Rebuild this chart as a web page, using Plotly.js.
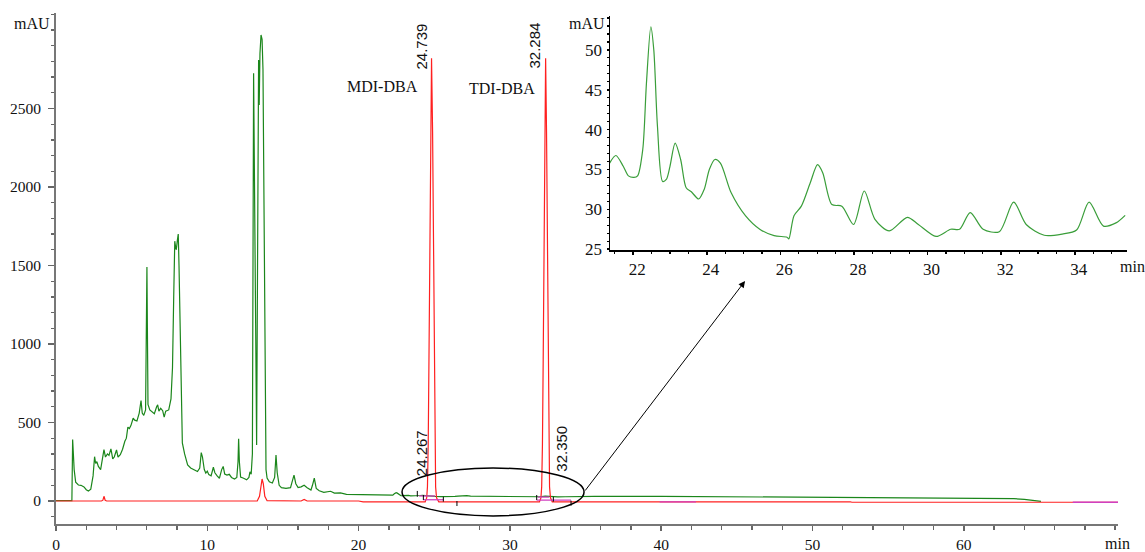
<!DOCTYPE html>
<html>
<head>
<meta charset="utf-8">
<script src="https://cdn.plot.ly/plotly-3.0.1.min.js"></script>
<style>html,body{margin:0;padding:0;background:#fff;}#chart{width:1145px;height:552px;}</style>
</head>
<body>
<div id="chart"></div>
<script>
// ---- data ----
// main chromatogram, green trace, 0–21 min
const greenEarlyTime = [0,1.0,1.05,1.1,1.15,1.2,1.3,1.48,1.65,1.85,2.0,2.14,2.3,2.45,2.55,2.62,2.7,2.8,2.95,3.05,3.17,3.27,3.4,3.5,3.63,3.75,3.85,4.0,4.1,4.25,4.4,4.55,4.65,4.75,4.85,4.95,5.1,5.2,5.35,5.5,5.62,5.7,5.8,5.92,5.98,6.01,6.04,6.08,6.2,6.35,6.5,6.65,6.72,6.8,6.92,7.05,7.15,7.25,7.45,7.6,7.7,7.78,7.85,7.9,7.95,8.02,8.08,8.13,8.2,8.28,8.35,8.5,8.7,8.9,9.1,9.35,9.5,9.6,9.68,9.8,9.9,10.0,10.1,10.25,10.4,10.5,10.65,10.8,10.95,11.05,11.15,11.3,11.45,11.6,11.8,11.95,12.03,12.07,12.12,12.2,12.4,12.6,12.75,12.82,12.9,12.98,13.06,13.12,13.2,13.26,13.32,13.39,13.43,13.48,13.55,13.62,13.68,13.75,13.82,13.88,13.95,14.1,14.3,14.45,14.54,14.62,14.75,14.9,15.2,15.5,15.6,15.73,15.85,16.0,16.2,16.4,16.6,16.85,16.95,17.07,17.2,17.4,17.7,18.0,18.15,18.4,18.7,18.8,19.2,20.1,21.0];
const greenEarlyAbs  = [3,3,3,392,300,200,120,102,100,90,72,64,75,160,282,240,250,220,200,250,327,280,300,290,332,268,280,325,280,295,330,380,400,470,462,480,527,515,510,560,640,560,545,580,1200,1490,1100,615,580,565,556,600,612,572,590,575,534,572,580,650,850,1300,1655,1620,1600,1660,1700,1500,1100,500,370,300,230,210,200,188,210,308,280,200,178,190,168,160,215,180,160,145,200,220,172,165,170,150,140,150,250,396,250,152,145,135,150,186,170,300,2724,1800,600,357,1500,2809,2522,2850,2968,2940,2750,1800,600,200,146,122,115,150,293,180,100,85,80,85,120,165,110,85,90,100,85,70,100,145,80,65,55,58,62,50,48,52,42,40,36];
// inset: the same green trace, 21.4–35.4 min
const insetTime = [21.36,21.53,21.73,21.87,22.02,22.12,22.26,22.36,22.48,22.56,22.66,22.8,22.9,23.0,23.14,23.29,23.44,23.58,23.78,23.93,24.07,24.22,24.37,24.66,25.05,25.44,25.83,26.18,26.23,26.37,26.57,26.81,27.01,27.15,27.4,27.67,27.99,28.28,28.57,28.96,29.45,29.75,30.23,30.63,30.87,31.16,31.51,31.95,32.34,32.68,33.17,33.66,34.05,34.39,34.78,35.12,35.37];
const insetAbs  = [35.8,36.75,35.4,34.2,34.0,34.2,37.5,45.8,52.9,50.0,40.4,33.5,33.75,35.4,38.3,36.25,32.7,32.2,31.3,32.5,35.0,36.25,35.8,32.1,29.2,27.5,26.7,26.5,26.3,29.2,30.4,33.3,35.6,34.6,30.6,30.4,28.1,32.3,28.75,27.3,29.0,28.1,26.6,27.5,27.5,29.6,27.5,27.2,30.9,28.1,26.75,26.9,27.4,30.9,27.9,28.3,29.25];
// main chromatogram, green trace, 35.4–65 min
const greenLateTime = [35.6,40,45,48.5,52,57.8,60,63.3,64,65.1];
const greenLateAbs  = [29,30,27,24,23,20,16,15,10,-3];
// red trace (standard)
const redTime = [0,1.0,3.0,3.1,3.17,3.25,3.35,8,13.3,13.45,13.55,13.62,13.7,13.8,13.95,16.2,16.4,16.6,20,20.3,24.4,24.5,24.55,24.6,24.65,24.7,24.75,24.82,24.89,24.94,24.99,25.04,25.09,25.15,25.3,31.95,32.05,32.1,32.15,32.2,32.25,32.3,32.36,32.42,32.47,32.52,32.57,32.62,32.68,32.8,52.5,52.6,70.2];
const redAbs  = [0,0,0,5,30,5,0,0,0,30,110,140,110,30,2,0,10,0,0,-5,-5,20,90,360,900,1650,2350,2820,2350,1650,900,360,90,20,-5,-5,20,90,360,900,1650,2350,2820,2350,1650,900,360,90,20,-5,-5,-8,-8];
// integration baselines (magenta) and peak event marks (black)
const baseTime = [24.0,25.05,null,24.28,25.6,null,31.85,32.6,null,31.77,34.04,null,39.9,42.3,null,67.2,70.2];
const baseAbs  = [32,32,null,8,8,null,25,25,null,6,6,null,-5,-5,null,-8,-8];
const markTime = [23.88,23.88,null,24.28,24.28,null,25.6,25.6,null,26.5,26.5,null,31.77,31.77,null,32.87,32.87,null,34.04,34.04];
const markAbs  = [27,64,null,6,38,null,-4,27,null,0,-32,null,6,38,null,-4,27,null,2,-30];
// tick labels and texts
const mainXTicks = [0,10,20,30,40,50,60];
const mainYTicks = [0,500,1000,1500,2000,2500];
const insetXTicks = [22,24,26,28,30,32,34];
const insetYTicks = [25,30,35,40,45,50];
const peakLabels = ['24.739','32.284','24.267','32.350'];
const compoundLabels = ['MDI-DBA','TDI-DBA'];

const greenTime = greenEarlyTime.concat(insetTime, greenLateTime);
const greenAbs = greenEarlyAbs.concat(insetAbs, greenLateAbs);

const serif = 'Liberation Serif';
const sans = 'Liberation Sans';
const tf = {family: serif, size: 16, color: '#111'};
const lf = {family: sans, size: 15, color: '#111'};

const traces = [
  {x: greenTime, y: greenAbs, type: 'scatter', mode: 'lines', line: {color: '#1b861b', width: 1.2}, xaxis: 'x', yaxis: 'y', hoverinfo: 'skip'},
  {x: redTime, y: redAbs, type: 'scatter', mode: 'lines', line: {color: '#ff2020', width: 1.2}, xaxis: 'x', yaxis: 'y', hoverinfo: 'skip'},
  {x: baseTime, y: baseAbs, type: 'scatter', mode: 'lines', connectgaps: false, line: {color: '#d040c0', width: 1.3}, xaxis: 'x', yaxis: 'y', hoverinfo: 'skip'},
  {x: markTime, y: markAbs, type: 'scatter', mode: 'lines', connectgaps: false, line: {color: '#000', width: 1}, xaxis: 'x', yaxis: 'y', hoverinfo: 'skip'},
  {x: insetTime, y: insetAbs, type: 'scatter', mode: 'lines', line: {color: '#3a9e3a', width: 1.2, shape: 'spline', smoothing: 0.8}, xaxis: 'x2', yaxis: 'y2', hoverinfo: 'skip'}
];

const W = 1079, H = 511, L = 56, T = 13;
const px = X => (X - L) / W;
const py = Y => (T + H - Y) / H;

function label(text, X, Y, font, angle) {
  return {text: text, x: px(X), y: py(Y), xref: 'paper', yref: 'paper', xanchor: 'center', yanchor: 'middle',
          showarrow: false, textangle: angle || 0, font: font};
}

const annotations = [
  label('mAU', 32, 23, tf),
  label('min', 1117, 543, tf),
  label('mAU', 587, 23, tf),
  label('min', 1132, 266, tf),
  label(compoundLabels[0], 382, 86, tf),
  label(compoundLabels[1], 502, 88, tf),
  label(peakLabels[0], 421, 46.5, lf, -90),
  label(peakLabels[1], 534, 45.5, lf, -90),
  label(peakLabels[2], 421.7, 453.5, lf, -90),
  label(peakLabels[3], 562, 448.7, lf, -90),
  {text: '', x: 45.54, y: 1401, xref: 'x', yref: 'y', ax: 34.9, ay: 57, axref: 'x', ayref: 'y', showarrow: true, arrowhead: 2, arrowsize: 1.3, arrowwidth: 1, arrowcolor: '#000'}
];

const shapes = [
  {type: 'circle', xref: 'x', yref: 'y', x0: 22.87, x1: 34.9, y0: -95, y1: 210, line: {color: '#000', width: 1.5}}
];

const axBase = {showgrid: false, zeroline: false, showline: true, ticks: 'outside', tickmode: 'array', tickfont: tf, fixedrange: true};

const layout = {
  width: 1145, height: 552,
  margin: {l: 56, r: 10, t: 13, b: 28, pad: 0},
  paper_bgcolor: '#fff', plot_bgcolor: 'rgba(0,0,0,0)',
  showlegend: false,
  font: {family: serif},
  xaxis: Object.assign({}, axBase, {domain: [0, 1062 / W], range: [0, 70.19], tickvals: mainXTicks, ticklen: 5, tickwidth: 1.5, tickcolor: '#666', linecolor: '#777', linewidth: 2, anchor: 'y',
    tickfont: {family: serif, size: 15.5, color: '#111'},
    minor: {tickmode: 'linear', tick0: 0, dtick: 2, ticks: 'outside', ticklen: 4, tickcolor: '#666', tickwidth: 1.3}}),
  yaxis: Object.assign({}, axBase, {domain: [0, 1], range: [-146.5, 3108], tickvals: mainYTicks, ticklen: 6, tickwidth: 1.5, tickcolor: '#666', linecolor: '#777', linewidth: 2, anchor: 'x', ticklabelstandoff: 4,
    tickfont: {family: serif, size: 15.5, color: '#111'},
    minor: {tickmode: 'linear', tick0: 0, dtick: 100, ticks: 'outside', ticklen: 3.5, tickcolor: '#666', tickwidth: 1.3}}),
  xaxis2: Object.assign({}, axBase, {domain: [px(610), px(1127)], range: [21.37, 35.42], tickvals: insetXTicks, ticklen: 3, tickwidth: 1.5, tickcolor: '#000', linecolor: '#000', linewidth: 1.5, anchor: 'y2', ticklabelshift: 4,
    tickfont: {family: serif, size: 17, color: '#111'},
    minor: {tickmode: 'linear', tick0: 0, dtick: 0.5, ticks: 'outside', ticklen: 2, tickcolor: '#000', tickwidth: 1.2}}),
  yaxis2: Object.assign({}, axBase, {domain: [py(250), py(16)], range: [24.9, 54.25], tickvals: insetYTicks, ticklen: 2, tickwidth: 1.5, tickcolor: '#000', linecolor: '#000', linewidth: 1.5, anchor: 'x2', ticklabelstandoff: 1,
    tickfont: {family: serif, size: 17, color: '#111'},
    minor: {tickmode: 'linear', tick0: 0, dtick: 1, ticks: 'outside', ticklen: 2, tickcolor: '#000', tickwidth: 1.2}}),
  annotations: annotations,
  shapes: shapes
};

Plotly.newPlot('chart', traces, layout, {staticPlot: true, displayModeBar: false});
</script>
</body>
</html>
